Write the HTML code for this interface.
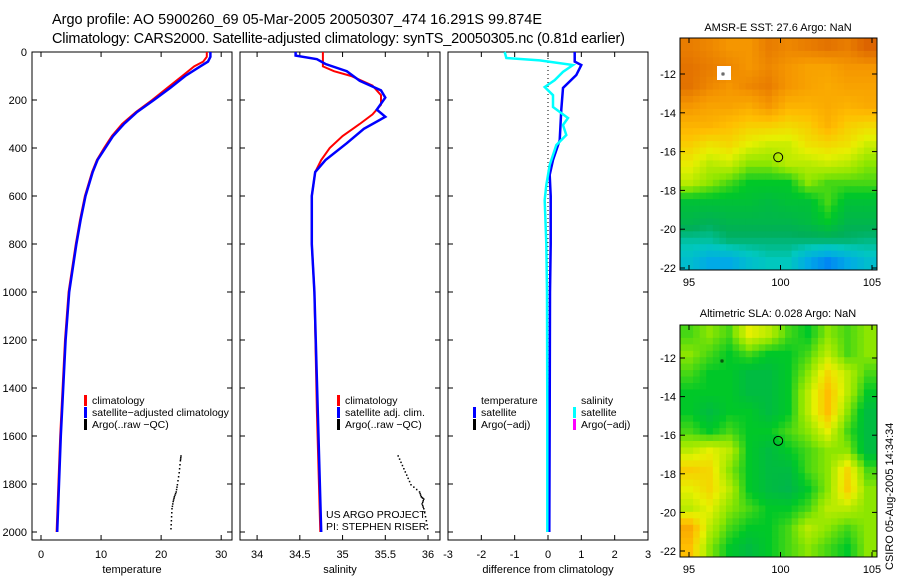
<!DOCTYPE html>
<html><head><meta charset="utf-8"><style>
body{margin:0;background:#fff;}
svg text{font-family:"Liberation Sans",sans-serif;}
</style></head><body>
<svg id="fig" width="900" height="580" xmlns="http://www.w3.org/2000/svg">
<text x="52" y="24" font-size="14.5" textLength="490">Argo profile: AO 5900260_69 05-Mar-2005 20050307_474 16.291S 99.874E</text>
<text x="52" y="43" font-size="14.5" textLength="573">Climatology: CARS2000. Satellite-adjusted climatology: synTS_20050305.nc (0.81d earlier)</text>
<text x="778" y="31" font-size="11" text-anchor="middle">AMSR-E SST: 27.6 Argo: NaN</text>
<text x="778" y="317" font-size="11" text-anchor="middle">Altimetric SLA: 0.028 Argo: NaN</text>
<text transform="translate(893,570) rotate(-90)" font-size="11">CSIRO 05-Aug-2005 14:34:34</text>
<g id="g"></g>
</svg>
<script>
// ---- data ----
const tDepth = [0,20,40,60,100,150,200,250,300,350,400,450,500,600,700,800,1000,1200,1400,1600,1800,2000];
const tClim  = [27.6,27.6,27.0,25.5,23.5,21.0,18.5,15.8,13.5,11.8,10.5,9.3,8.5,7.3,6.5,5.8,4.6,4.0,3.6,3.2,2.9,2.6];
const tSat   = [28.2,28.2,27.8,26.5,24.0,21.5,18.8,16.0,13.8,12.0,10.7,9.4,8.6,7.4,6.6,5.9,4.7,4.1,3.7,3.3,3.0,2.7];
const argoTDepth = [1680,1700,1750,1800,1830,1850,1870,1900,1950,2000];
const argoT = [23.3,23.2,23.0,22.7,22.5,22.2,22.0,21.8,21.7,21.6];
const sDepth = [0,20,40,60,80,100,140,180,220,260,300,350,400,450,500,600,800,1000,1500,2000];
const sClim  = [34.77,34.77,34.77,34.77,34.9,35.1,35.35,35.45,35.45,35.35,35.2,35.0,34.85,34.75,34.68,34.64,34.64,34.67,34.7,34.74];
const sSatDepth = [0,15,30,50,80,120,160,190,240,270,320,380,450,500,600,800,1000,1500,2000];
const sSat = [34.45,34.45,34.7,34.8,35.05,35.2,35.45,35.5,35.4,35.5,35.25,35.05,34.8,34.68,34.64,34.64,34.67,34.71,34.75];
const argoSDepth = [1680,1720,1760,1800,1830,1850,1860,1880,1900,1950,2000];
const argoS = [35.65,35.7,35.75,35.8,35.9,35.92,35.95,35.93,35.95,35.98,36.0];
const dTDepth = [0,40,54,96,150,240,367,450,512,600,800,1000,1500,2000];
const dT = [0.8,0.8,1.0,0.85,0.45,0.4,0.35,0.15,0.05,0.08,0.08,0.06,0.05,0.04];
const dSDepth = [0,25,35,54,83,117,146,180,229,275,304,346,388,471,554,617,800,1000,1500,2000];
const dS = [-1.3,-1.25,-0.25,0.75,0.45,0.2,-0.1,0.15,0.15,0.6,0.45,0.55,0.25,0.05,-0.05,-0.1,-0.05,-0.03,-0.02,-0.02];
const depthTicks = [0,200,400,600,800,1000,1200,1400,1600,1800,2000];
const tTicks = [0,10,20,30];
const sTicks = [34,34.5,35,35.5,36];
const dTicks = [-3,-2,-1,0,1,2,3];
const lonTicks = [95,100,105];
const latTicks = [-12,-14,-16,-18,-20,-22];
const sstGrid = [
[0.9,0.88,0.85,0.85,0.9,0.88,0.9,0.92,0.9,0.95],
[0.92,0.9,0.88,0.85,0.88,0.85,0.82,0.82,0.85,0.85],
[0.92,0.88,0.85,0.88,0.9,0.85,0.82,0.8,0.82,0.82],
[0.85,0.82,0.82,0.8,0.85,0.78,0.78,0.8,0.78,0.8],
[0.78,0.78,0.75,0.72,0.72,0.7,0.72,0.78,0.72,0.7],
[0.72,0.68,0.7,0.65,0.62,0.62,0.68,0.7,0.68,0.62],
[0.66,0.6,0.62,0.55,0.55,0.6,0.6,0.62,0.6,0.55],
[0.6,0.55,0.5,0.45,0.45,0.45,0.55,0.5,0.5,0.5],
[0.42,0.42,0.42,0.42,0.4,0.42,0.42,0.5,0.42,0.42],
[0.38,0.36,0.38,0.38,0.38,0.38,0.4,0.45,0.38,0.38],
[0.3,0.3,0.33,0.33,0.33,0.33,0.33,0.33,0.33,0.32],
[0.25,0.2,0.2,0.25,0.28,0.28,0.2,0.15,0.2,0.25]];
const slaGrid = [
[0.5,0.55,0.5,0.65,0.6,0.5,0.45,0.55,0.5,0.55],
[0.55,0.5,0.45,0.5,0.45,0.45,0.5,0.6,0.5,0.55],
[0.5,0.45,0.45,0.4,0.4,0.45,0.55,0.7,0.6,0.5],
[0.45,0.45,0.45,0.4,0.4,0.45,0.6,0.75,0.6,0.45],
[0.45,0.4,0.45,0.45,0.4,0.45,0.6,0.75,0.55,0.4],
[0.5,0.45,0.5,0.45,0.45,0.5,0.55,0.65,0.5,0.4],
[0.6,0.65,0.6,0.45,0.4,0.45,0.5,0.55,0.55,0.4],
[0.72,0.7,0.55,0.45,0.4,0.4,0.5,0.55,0.7,0.5],
[0.65,0.7,0.6,0.45,0.4,0.38,0.45,0.55,0.72,0.55],
[0.6,0.65,0.55,0.5,0.45,0.45,0.5,0.6,0.6,0.55],
[0.8,0.6,0.5,0.45,0.45,0.5,0.6,0.55,0.5,0.55],
[0.75,0.55,0.45,0.4,0.45,0.5,0.55,0.5,0.45,0.55]];
const argoLon = 99.874, argoLat = -16.291;

// ---- drawing ----
const NS="http://www.w3.org/2000/svg", G=document.getElementById('g');
function mk(tag,attrs,parent){const e=document.createElementNS(NS,tag);for(const k in attrs)e.setAttribute(k,attrs[k]);(parent||G).appendChild(e);return e;}
const yD = d => 52 + d*0.24;
function panel(name,x0,x1,vmin,vmax,xt,xlabel){
  const g=mk('g',{});
  
  
  const sx=v=>x0+(v-vmin)/(vmax-vmin)*(x1-x0);
  const r=mk('rect',{x:x0,y:52,width:x1-x0,height:488,fill:'none',stroke:'#000','stroke-width':1},g);
  
  
  depthTicks.forEach(d=>{const y=yD(d);
    mk('line',{x1:x0,x2:x0+5,y1:y,y2:y,stroke:'#000'},g);mk('line',{x1:x1,x2:x1-5,y1:y,y2:y,stroke:'#000'},g);});
  xt.forEach(v=>{const x=sx(v);
    mk('line',{x1:x,x2:x,y1:540,y2:535,stroke:'#000'},g);mk('line',{x1:x,x2:x,y1:52,y2:57,stroke:'#000'},g);
    const t=mk('text',{x:x,y:558,'font-size':11,'text-anchor':'middle'},g);t.textContent=v;
    
    });
  const xl=mk('text',{x:(x0+x1)/2,y:573,'font-size':11,'text-anchor':'middle'},g);xl.textContent=xlabel;
  
  
  return {g,sx};
}
function line(p,depths,vals,color,w,nm){
  const pts=depths.map((d,i)=>p.sx(vals[i]).toFixed(1)+','+yD(d).toFixed(1)).join(' ');
  const l=mk('polyline',{points:pts,fill:'none',stroke:color,'stroke-width':w},p.g);
  
  
}
function dots(p,depths,vals,nm){
  const g=mk('g',{},p.g);
  
  
  for(let i=0;i<depths.length-1;i++){for(let k=0;k<3;k++){const f=k/3;
    const d=depths[i]+(depths[i+1]-depths[i])*f, v=vals[i]+(vals[i+1]-vals[i])*f;
    mk('rect',{x:p.sx(v)-0.7,y:yD(d),width:1.5,height:1.5,fill:'#000'},g);}}
}
function legend(p,x,y,items){
  items.forEach((it,i)=>{
    if(it[1])mk('rect',{x:x,y:y+i*12-9,width:3,height:11,fill:it[1]},p.g);
    const t=mk('text',{x:x+8,y:y+i*12,'font-size':10.5},p.g);t.textContent=it[0];
    
    });
}
depthTicks.forEach(d=>{const t=mk('text',{x:27,y:yD(d)+4,'font-size':11,'text-anchor':'end'});t.textContent=d;
  
  });

const p1=panel('temperature-panel',32,232,-1.5,31.8,tTicks,'temperature');
line(p1,tDepth,tClim,'#f00',2,'temperature-climatology-line');
line(p1,tDepth,tSat,'#00f',2.5,'temperature-satellite-line');
dots(p1,argoTDepth,argoT,'temperature-argo-dots');
legend(p1,84,404,[['climatology','#f00'],['satellite−adjusted climatology','#00f'],['Argo(..raw −QC)','#000']]);

const p2=panel('salinity-panel',240,440,33.80,36.14,sTicks,'salinity');
line(p2,sDepth,sClim,'#f00',2,'salinity-climatology-line');
line(p2,sSatDepth,sSat,'#00f',2.5,'salinity-satellite-line');
dots(p2,argoSDepth,argoS,'salinity-argo-dots');
legend(p2,337,404,[['climatology','#f00'],['satellite adj. clim.','#00f'],['Argo(..raw −QC)','#000']]);
[['US ARGO PROJECT',518],['PI: STEPHEN RISER',530]].forEach(a=>{const t=mk('text',{x:326,y:a[1],'font-size':10.5},p2.g);t.textContent=a[0];
  
  });

const p3=panel('difference-panel',448,648,-3,3,dTicks,'difference from climatology');
mk('line',{x1:p3.sx(0),x2:p3.sx(0),y1:54,y2:532,stroke:'#000','stroke-dasharray':'1,3'},p3.g);
line(p3,dTDepth,dT,'#00f',2.5,'temperature-difference-line');
line(p3,dSDepth,dS,'#0ff',2.5,'salinity-difference-line');
legend(p3,473,404,[['temperature',null],['satellite','#00f'],['Argo(−adj)','#000']]);
legend(p3,573,404,[['salinity',null],['satellite','#0ff'],['Argo(−adj)','#f0f']]);

const cstops=[[0.1,[0,100,255]],[0.2,[0,170,230]],[0.28,[0,200,190]],[0.35,[0,175,90]],[0.45,[0,200,40]],[0.55,[140,230,0]],[0.65,[230,240,0]],[0.75,[255,190,0]],[0.85,[245,150,0]],[0.95,[220,100,0]]];
function cmap(v){if(v<=cstops[0][0])return cstops[0][1];for(let i=1;i<cstops.length;i++){if(v<=cstops[i][0]){const a=cstops[i-1],b=cstops[i],f=(v-a[0])/(b[0]-a[0]);return a[1].map((c,j)=>Math.round(c+(b[1][j]-c)*f));}}return cstops[cstops.length-1][1];}
function sample(grid,fr,fc){const nr=grid.length,nc=grid[0].length;
  const r=Math.min(Math.max(fr-0.5,0),nr-1),c=Math.min(Math.max(fc-0.5,0),nc-1);
  const r0=Math.floor(r),c0=Math.floor(c),r1=Math.min(r0+1,nr-1),c1=Math.min(c0+1,nc-1),a=r-r0,b=c-c0;
  return grid[r0][c0]*(1-a)*(1-b)+grid[r0][c1]*(1-a)*b+grid[r1][c0]*a*(1-b)+grid[r1][c1]*a*b;}
function mapPanel(name,grid,top,lat12y,lat22y){
  const g=mk('g',{});
  
  
  const x0=680,x1=877,bot=top+232;
  const sx=lon=>689+(lon-95)*(872-689)/10, sy=lat=>lat12y+(-12-lat)*(lat22y-lat12y)/10;
  const nr=grid.length,nc=grid[0].length,SUB=3,cw=(x1-x0)/(nc*SUB),ch=(bot-top)/(nr*SUB);
  for(let r=0;r<nr*SUB;r++)for(let c=0;c<nc*SUB;c++){
    const v=sample(grid,(r+0.5)/SUB,(c+0.5)/SUB),col=cmap(v);
    const e=mk('rect',{x:x0+c*cw,y:top+r*ch,width:cw+0.5,height:ch+0.5,fill:'rgb('+col.join(',')+')'},g);
    
    }
  mk('rect',{x:x0,y:top,width:x1-x0,height:bot-top,fill:'none',stroke:'#000'},g);
  lonTicks.forEach(l=>{const x=sx(l);mk('line',{x1:x,x2:x,y1:bot,y2:bot-5,stroke:'#000'},g);mk('line',{x1:x,x2:x,y1:top,y2:top+5,stroke:'#000'},g);
    const t=mk('text',{x:x,y:bot+16,'font-size':11,'text-anchor':'middle'},g);t.textContent=l;
    
    });
  latTicks.forEach(l=>{const y=sy(l);mk('line',{x1:x0,x2:x0+5,y1:y,y2:y,stroke:'#000'},g);mk('line',{x1:x1,x2:x1-5,y1:y,y2:y,stroke:'#000'},g);
    const t=mk('text',{x:676,y:y+4,'font-size':11,'text-anchor':'end'},g);t.textContent=l;
    
    });
  const c=mk('circle',{cx:sx(argoLon),cy:sy(argoLat),r:4.5,fill:'none',stroke:'#000'},g);
  
  
  return {g,sx,sy};
}
const m1=mapPanel('sst-map',sstGrid,38,74,268);
mk('rect',{x:717,y:66,width:14,height:14,fill:'#fff'},m1.g);
mk('rect',{x:722,y:73,width:2,height:2,fill:'none',stroke:'#000','stroke-width':0.7},m1.g);
const m2=mapPanel('sla-map',slaGrid,325,358,551);
mk('rect',{x:721,y:360,width:2,height:2,fill:'none',stroke:'#000','stroke-width':0.7},m2.g);
</script>
</body></html>
